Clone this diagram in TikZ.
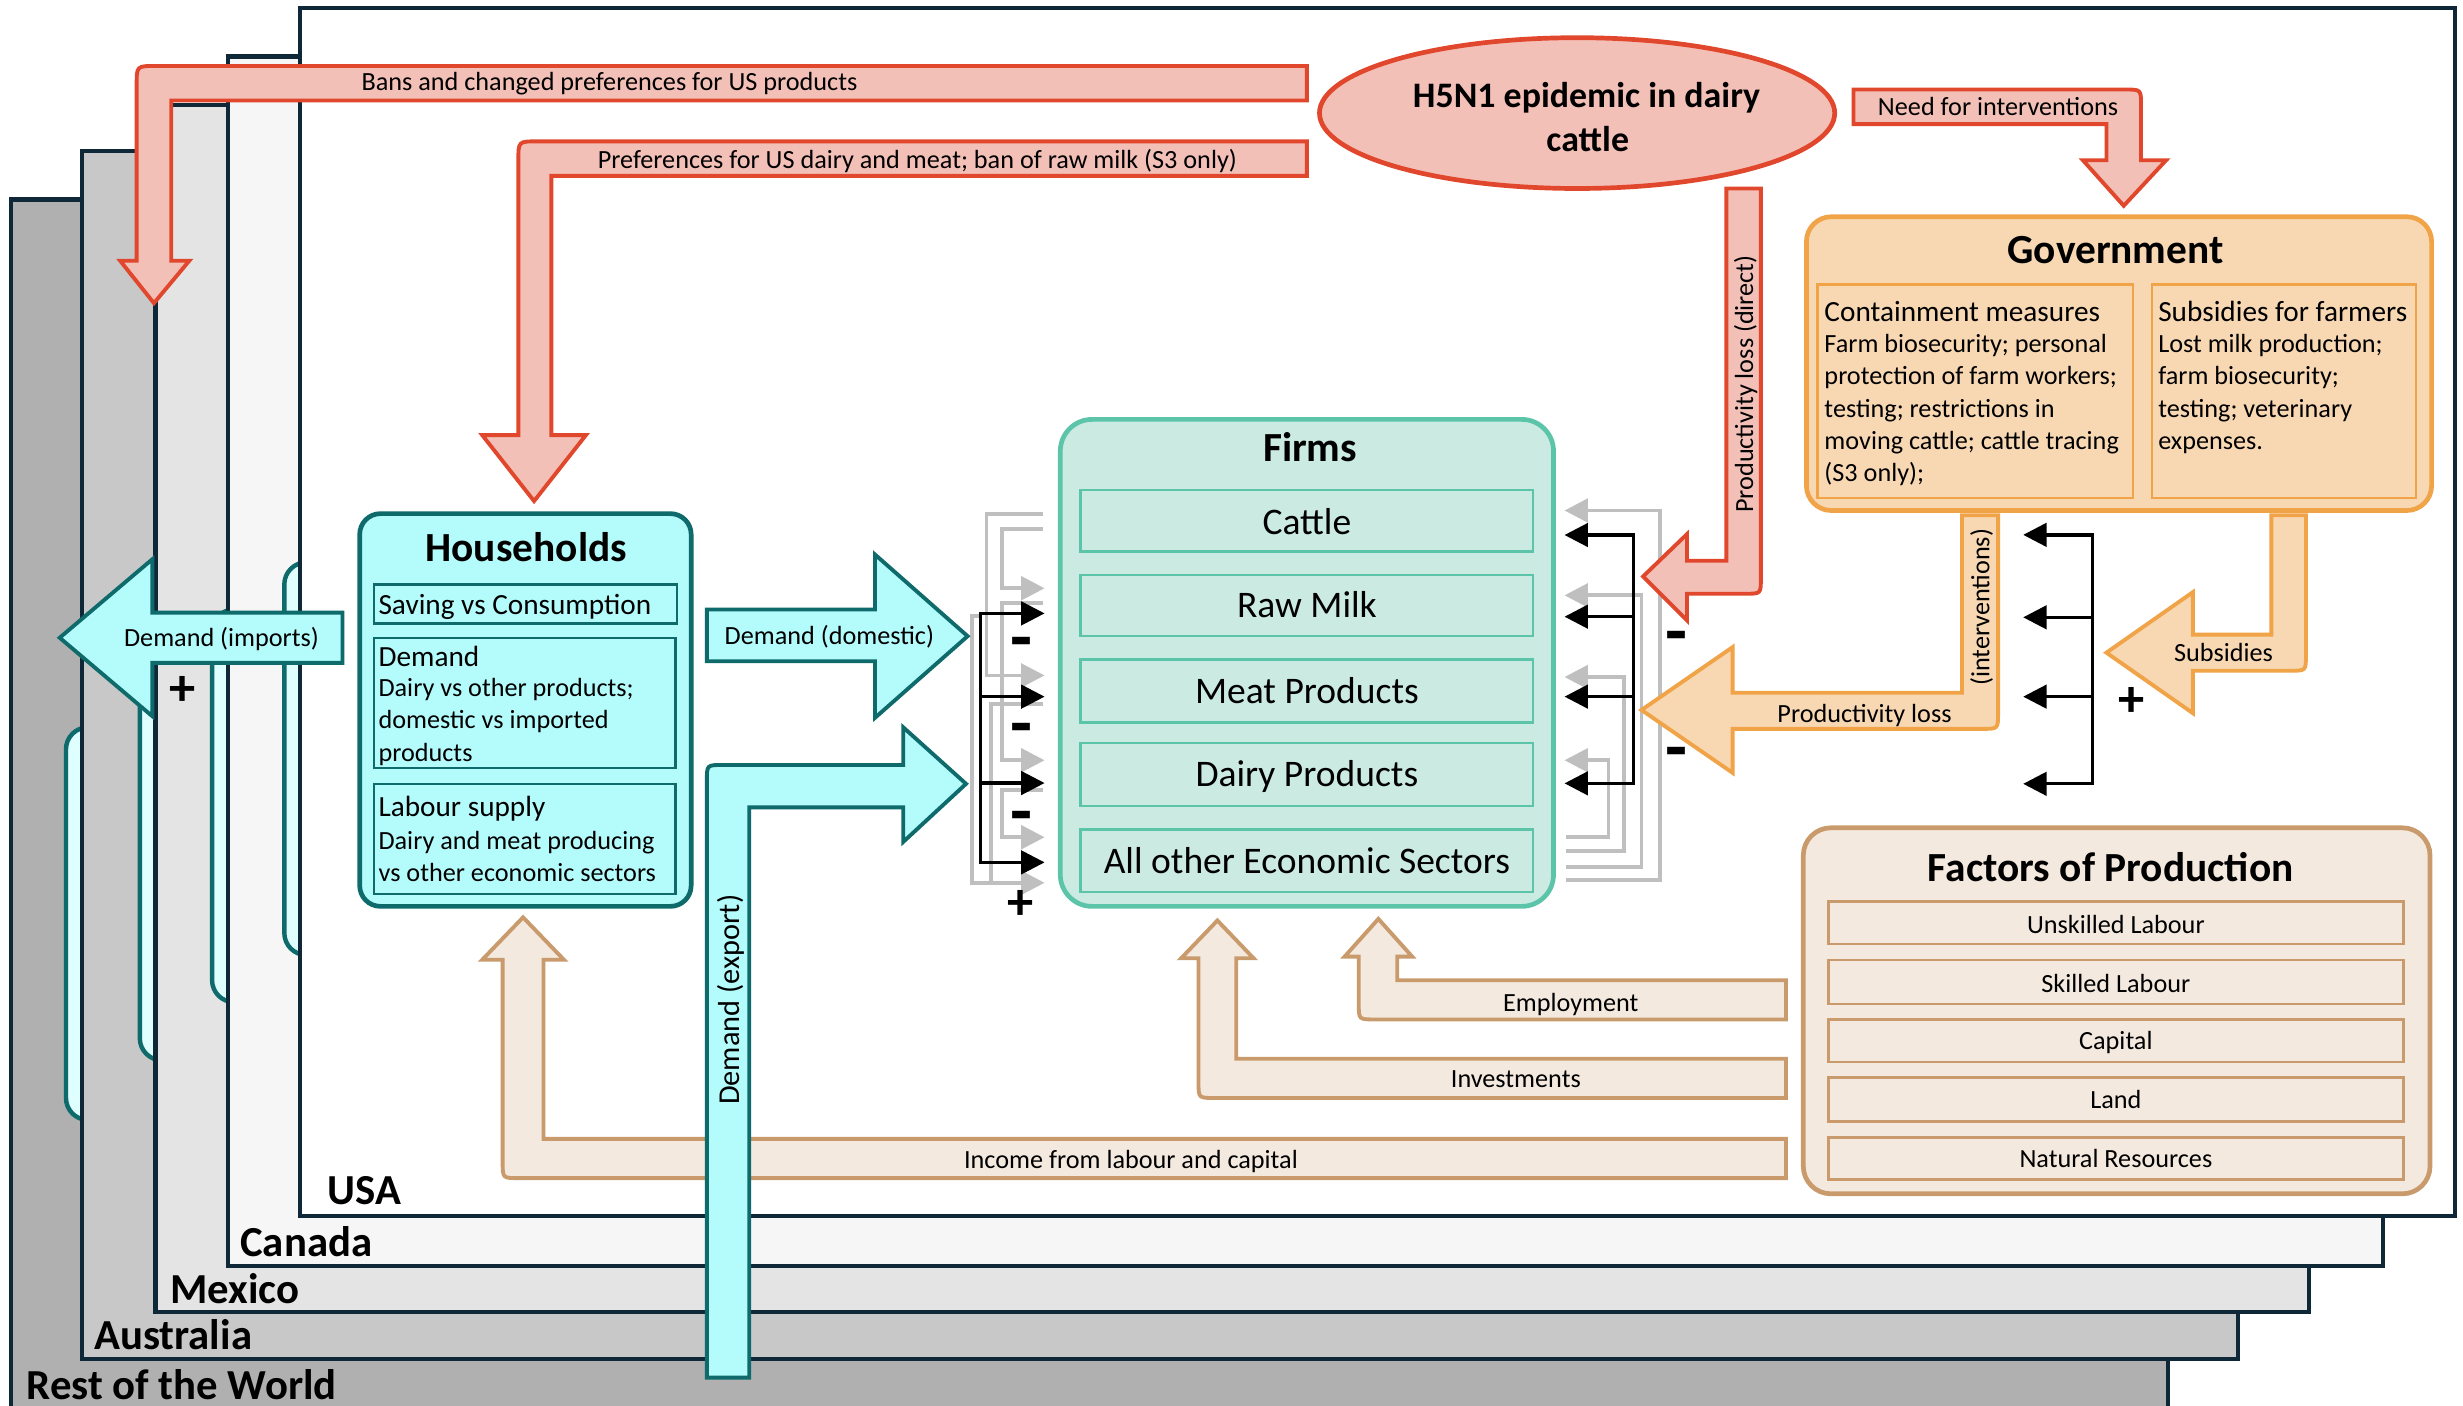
\documentclass[tikz,border=0pt]{standalone}
\usepackage{fontspec}
\setmainfont{Carlito}
\usetikzlibrary{arrows.meta,shapes.geometric}

\newcommand\pxu{0.02cm}
\newcommand\fs[1]{\fontsize{#1}{#1}\selectfont}

\definecolor{navy}{HTML}{0E2838}
\definecolor{redfill}{HTML}{F3C0B7}
\definecolor{redline}{HTML}{E0472C}
\definecolor{orfill}{HTML}{F8D8B3}
\definecolor{orline}{HTML}{F0A347}
\definecolor{tanfill}{HTML}{F4E9DF}
\definecolor{tanline}{HTML}{C99B6C}
\definecolor{cyfill}{HTML}{B4FBFB}
\definecolor{tealline}{HTML}{0F6A6B}
\definecolor{ghostfill}{HTML}{DFFEFE}
\definecolor{firmfill}{HTML}{CBEBE2}
\definecolor{firmline}{HTML}{5CC4A9}
\definecolor{fbgray}{HTML}{BFBFBF}
\definecolor{restgray}{HTML}{B0B0B0}
\definecolor{ausgray}{HTML}{C8C8C8}
\definecolor{mexgray}{HTML}{E4E4E4}
\definecolor{cangray}{HTML}{F6F6F6}

\tikzset{
  every node/.style={inner sep=0pt, outer sep=0pt},
  panel/.style={draw=navy, line width=1.5pt, anchor=north west},
  ghost/.style={draw=tealline, fill=ghostfill, line width=1.6pt, rounded corners=8pt,
    anchor=north west, minimum width=211*\pxu, minimum height=250*\pxu},
  country/.style={anchor=base west, font=\bfseries\fs{15.5}},
  lbl/.style={anchor=base, font=\fs{9.5}},
  ttl/.style={anchor=base, font=\bfseries\fs{15}},
  txt/.style={anchor=base west, font=\fs{9.5}},
  head/.style={anchor=base west, font=\fs{10.6}},
  sector/.style={anchor=base, font=\fs{13.6}},
  bigbox/.style={draw, line width=1.7pt, anchor=north west},
  subbox/.style={draw, line width=0.9pt, anchor=north west},
  redarrow/.style={draw=redline, fill=redfill, line width=1.4pt},
  orarrow/.style={draw=orline, fill=orfill, line width=1.4pt},
  tanarrow/.style={draw=tanline, fill=tanfill, line width=1.4pt},
  cyarrow/.style={draw=tealline, fill=cyfill, line width=1.4pt},
  blk/.style={draw=black, line width=1.2pt, -{Triangle[length=8.5pt,width=8.5pt]}},
  blkboth/.style={draw=black, line width=1.2pt,
    {Triangle[length=8.5pt,width=8.5pt]}-{Triangle[length=8.5pt,width=8.5pt]}},
  gry/.style={draw=fbgray, line width=1.4pt, -{Triangle[length=8.5pt,width=8.5pt]}},
  gryline/.style={draw=fbgray, line width=1.4pt},
  plus/.style={font=\bfseries\fs{19}},
  minus/.style={anchor=base, font=\bfseries\fs{26}},
}

\begin{document}
\begin{tikzpicture}[x=0.02cm, y=-0.02cm]
\useasboundingbox (0,0) rectangle (1568,895);

% ---- stacked country panels, back to front ----
\node[panel, fill=restgray, minimum width=1373*\pxu, minimum height=800*\pxu] (rest) at (7,127) {};
\node[ghost] (ghost-rest) at (42,463) {};
\node[country] (rest-l) at (17,891) {Rest of the World};

\node[panel, fill=ausgray, minimum width=1373*\pxu, minimum height=769*\pxu] (aus) at (52,96) {};
\node[ghost] (ghost-aus) at (89,425) {};
\node[country] (aus-l) at (60,859) {Australia};

\node[panel, fill=mexgray, minimum width=1371*\pxu, minimum height=768*\pxu] (mex) at (99,67) {};
\node[ghost] (ghost-mex) at (135,388) {};
\node[country] (mex-l) at (108.5,830) {Mexico};

\node[panel, fill=cangray, minimum width=1372*\pxu, minimum height=770*\pxu] (can) at (145,36) {};
\node[ghost] (ghost-can) at (181,358) {};
\node[country] (can-l) at (153,800) {Canada};

\node[panel, fill=white, minimum width=1372*\pxu, minimum height=769*\pxu] (usa) at (191,5) {};
\node[country] (usa-l) at (208.6,767) {USA};

% ---- red flows from the epidemic ----
\draw[redarrow] (832,42) -- (99,42) .. controls (87,42) .. (87,54) -- (87,166) -- (76.5,166)
  -- (98,193) -- (120.5,166) -- (109,166) -- (109,64) -- (832,64) -- cycle;
\node[lbl] (bans) at (388,57.7) {Bans and changed preferences for US products};

\draw[redarrow] (832,90) -- (342,90) .. controls (330,90) .. (330,102) -- (330,277) -- (307,277)
  -- (340,319) -- (373,277) -- (351,277) -- (351,112) -- (832,112) -- cycle;
\node[lbl] (prefs) at (584,107) {Preferences for US dairy and meat; ban of raw milk (S3 only)};

% ---- factor flows ----
\draw[tanarrow] (1137,624) -- (889.5,624) -- (889.5,609) -- (899,609) -- (877.5,585) -- (856,609)
  -- (865,609) -- (865,639) .. controls (865,649) .. (875,649) -- (1137,649) -- cycle;
\node[lbl] (emp) at (1000,643.8) {Employment};

\draw[tanarrow] (1137,674) -- (787,674) -- (787,610) -- (798,610) -- (775,586) -- (752,610)
  -- (763,610) -- (763,689) .. controls (763,699) .. (773,699) -- (1137,699) -- cycle;
\node[lbl] (inv) at (965,692.4) {Investments};

\draw[tanarrow] (1137,725) -- (346,725) -- (346,611) -- (359,611) -- (333,584) -- (307,611)
  -- (320,611) -- (320,740) .. controls (320,750) .. (330,750) -- (1137,750) -- cycle;
\node[lbl] (inc) at (720,743.8) {Income from labour and capital};

% ---- Households ----
\node[bigbox, draw=tealline, fill=cyfill, rounded corners=7.5pt,
  minimum width=211*\pxu, minimum height=250*\pxu] (hh) at (229,327) {};
\node[ttl] (hh-t) at (335,357.5) {Households};
\node[subbox, draw=tealline, minimum width=193*\pxu, minimum height=25*\pxu] (hh-b1) at (238,372) {};
\node[subbox, draw=tealline, minimum width=192*\pxu, minimum height=83*\pxu] (hh-b2) at (238,406) {};
\node[subbox, draw=tealline, minimum width=192*\pxu, minimum height=70*\pxu] (hh-b3) at (238,499) {};
\node[head] (hh-s) at (241,391) {Saving vs Consumption};
\node[head] (hh-d) at (241,424) {Demand};
\node[txt] (hh-d1) at (241,443.5) {Dairy vs other products;};
\node[txt] (hh-d2) at (241,464) {domestic vs imported};
\node[txt] (hh-d3) at (241,484.5) {products};
\node[head] (hh-l) at (241,520) {Labour supply};
\node[txt] (hh-l1) at (241,540.5) {Dairy and meat producing};
\node[txt] (hh-l2) at (241,561) {vs other economic sectors};

% ---- Firms ----
\node[bigbox, draw=firmline, fill=firmfill, rounded corners=11.5pt,
  minimum width=314*\pxu, minimum height=310*\pxu] (firms) at (675,267) {};
\node[ttl] (firms-t) at (834,293.6) {Firms};
\node[subbox, draw=firmline, minimum width=288*\pxu, minimum height=39*\pxu] (s1) at (688,312) {};
\node[subbox, draw=firmline, minimum width=288*\pxu, minimum height=39*\pxu] (s2) at (688,366) {};
\node[subbox, draw=firmline, minimum width=288*\pxu, minimum height=40*\pxu] (s3) at (688,420) {};
\node[subbox, draw=firmline, minimum width=288*\pxu, minimum height=40*\pxu] (s4) at (688,473) {};
\node[subbox, draw=firmline, minimum width=288*\pxu, minimum height=40*\pxu] (s5) at (688,528) {};
\node[sector] (s1-t) at (832,340) {Cattle};
\node[sector] (s2-t) at (832,393) {Raw Milk};
\node[sector] (s3-t) at (832,447.6) {Meat Products};
\node[sector] (s4-t) at (832,501) {Dairy Products};
\node[sector] (s5-t) at (832,556) {All other Economic Sectors};

% ---- Government ----
\node[bigbox, draw=orline, fill=orfill, rounded corners=9pt,
  minimum width=398*\pxu, minimum height=187*\pxu] (gov) at (1150,138) {};
\node[ttl] (gov-t) at (1346.8,167.7) {Government};
\node[subbox, draw=orline, minimum width=201*\pxu, minimum height=136*\pxu] (gov-b1) at (1157,181) {};
\node[subbox, draw=orline, minimum width=168*\pxu, minimum height=136*\pxu] (gov-b2) at (1370,181) {};
\node[head] (gc-h) at (1161.5,204.6) {Containment measures};
\node[txt] (gc-1) at (1161.5,224.5) {Farm biosecurity; personal};
\node[txt] (gc-2) at (1161.5,245) {protection of farm workers;};
\node[txt] (gc-3) at (1161.5,265.5) {testing; restrictions in};
\node[txt] (gc-4) at (1161.5,286) {moving cattle; cattle tracing};
\node[txt] (gc-5) at (1161.5,306.5) {(S3 only);};
\node[head] (gs-h) at (1374,204.6) {Subsidies for farmers};
\node[txt] (gs-1) at (1374,224.5) {Lost milk production;};
\node[txt] (gs-2) at (1374,245) {farm biosecurity;};
\node[txt] (gs-3) at (1374,265.5) {testing; veterinary};
\node[txt] (gs-4) at (1374,286) {expenses.};

% ---- Factors of Production ----
\node[bigbox, draw=tanline, fill=tanfill, rounded corners=10pt,
  minimum width=399*\pxu, minimum height=233*\pxu] (fac) at (1148,527) {};
\node[ttl] (fac-t) at (1343.7,561.3) {Factors of Production};
\node[subbox, draw=tanline, minimum width=366*\pxu, minimum height=27*\pxu] (f1) at (1164,574) {};
\node[subbox, draw=tanline, minimum width=366*\pxu, minimum height=28*\pxu] (f2) at (1164,611) {};
\node[subbox, draw=tanline, minimum width=366*\pxu, minimum height=27*\pxu] (f3) at (1164,649) {};
\node[subbox, draw=tanline, minimum width=366*\pxu, minimum height=28*\pxu] (f4) at (1164,686) {};
\node[subbox, draw=tanline, minimum width=366*\pxu, minimum height=27*\pxu] (f5) at (1164,724) {};
\node[lbl] (f1-t) at (1347,594) {Unskilled Labour};
\node[lbl] (f2-t) at (1347,632) {Skilled Labour};
\node[lbl] (f3-t) at (1347,668.4) {Capital};
\node[lbl] (f4-t) at (1347,706) {Land};
\node[lbl] (f5-t) at (1347,743.3) {Natural Resources};

% ---- intermediate-input loops around the firms (grey) ----
\draw[gry] (664,327) -- (628,327) -- (628,430) -- (665,430);
\draw[gry] (664,337) -- (638,337) -- (638,374.5) -- (665,374.5);
\draw[gry] (664,384) -- (638,384) -- (638,484) -- (665,484);
\draw[gryline] (664,448) -- (631,448) -- (631,562);
\draw[gry] (664,503) -- (638,503) -- (638,533) -- (665,533);
\draw[gry] (624,392) -- (619,392) -- (619,562) -- (665,562);

\draw[gry] (997,560) -- (1057,560) -- (1057,325) -- (996,325);
\draw[gry] (997,552) -- (1045,552) -- (1045,379) -- (996,379);
\draw[gry] (997,542) -- (1034,542) -- (1034,431) -- (996,431);
\draw[gry] (997,533) -- (1024,533) -- (1024,484) -- (996,484);

% ---- demand and shock distribution buses (black) ----
\draw[blkboth] (665,390.5) -- (624,390.5) -- (624,549) -- (665,549);
\draw[blk] (624,443.5) -- (665,443.5);
\draw[blk] (624,498.5) -- (665,498.5);

\draw[blkboth] (996,340.6) -- (1040,340.6) -- (1040,498.7) -- (996,498.7);
\draw[blk] (1040,392.6) -- (996,392.6);
\draw[blk] (1040,443.5) -- (996,443.5);

\draw[blkboth] (1288,340.5) -- (1332,340.5) -- (1332,499) -- (1288,499);
\draw[blk] (1332,393) -- (1288,393);
\draw[blk] (1332,443.5) -- (1288,443.5);

% ---- shocks on productivity ----
\draw[redarrow] (1099,120) -- (1121,120) -- (1121,368) .. controls (1121,378) .. (1111,378)
  -- (1074,378) -- (1074,395) -- (1046,367) -- (1074,340) -- (1074,357) -- (1099,357) -- cycle;
\node[lbl, rotate=90] (pld) at (1116,244.5) {Productivity loss (direct)};

\draw[orarrow] (1249,328) -- (1272,328) -- (1272,454) .. controls (1272,464) .. (1262,464)
  -- (1103,464) -- (1103,492) -- (1045,452) -- (1103,412) -- (1103,441) -- (1249,441) -- cycle;
\node[lbl] (pl) at (1187,459.8) {Productivity loss};
\node[lbl, rotate=90] (intv) at (1266.4,386.7) {(interventions)};

\draw[orarrow] (1446,328) -- (1468,328) -- (1468,417) .. controls (1468,427) .. (1458,427)
  -- (1396,427) -- (1396,454) -- (1341,415.5) -- (1396,377) -- (1396,404) -- (1446,404) -- cycle;
\node[lbl] (subs) at (1415.5,421.2) {Subsidies};

% ---- demand flows ----
\draw[cyarrow] (218,390) -- (97,390) -- (97,356) -- (38,406) -- (97,456) -- (97,422) -- (218,422) -- cycle;
\node[lbl] (dimp) at (141,411.4) {Demand (imports)};

\draw[cyarrow] (450,388) -- (557,388) -- (557,353) -- (616,405) -- (557,457) -- (557,421) -- (450,421) -- cycle;
\node[lbl] (ddom) at (528,410.3) {Demand (domestic)};

\draw[cyarrow] (450,877) -- (450,497) .. controls (450,487) .. (460,487) -- (575,487) -- (575,463)
  -- (615,499) -- (575,536) -- (575,514) -- (477,514) -- (477,877) -- cycle;
\node[lbl, rotate=90, font=\fs{11}] (dexp) at (471,636.5) {Demand (export)};

% ---- the epidemic ----
\node[ellipse, draw=redline, fill=redfill, line width=1.7pt,
  minimum width=328*\pxu, minimum height=96*\pxu] (h5n1) at (1004,72) {};
\node[anchor=base, font=\bfseries\fs{13}] (h5n1-a) at (1010,68.2) {H5N1 epidemic in dairy};
\node[anchor=base, font=\bfseries\fs{13}] (h5n1-b) at (1010.8,96.6) {cattle};

\draw[redarrow] (1180,57) -- (1353,57) .. controls (1363,57) .. (1363,67) -- (1363,102) -- (1379,102)
  -- (1352,131) -- (1326,102) -- (1341,102) -- (1341,79) -- (1180,79) -- cycle;
\node[lbl] (need) at (1272,73.3) {Need for interventions};

% ---- signs of the effects ----
\node[minus] (m1) at (650,421) {-};
\node[minus] (m2) at (650,476) {-};
\node[minus] (m3) at (650,532) {-};
\node[minus] (m4) at (1067,417) {-};
\node[minus] (m5) at (1067,491) {-};
\node[plus] (p1) at (650,576) {+};
\node[plus] (p2) at (116,440) {+};
\node[plus] (p3) at (1357,447) {+};
\end{tikzpicture}
\end{document}
